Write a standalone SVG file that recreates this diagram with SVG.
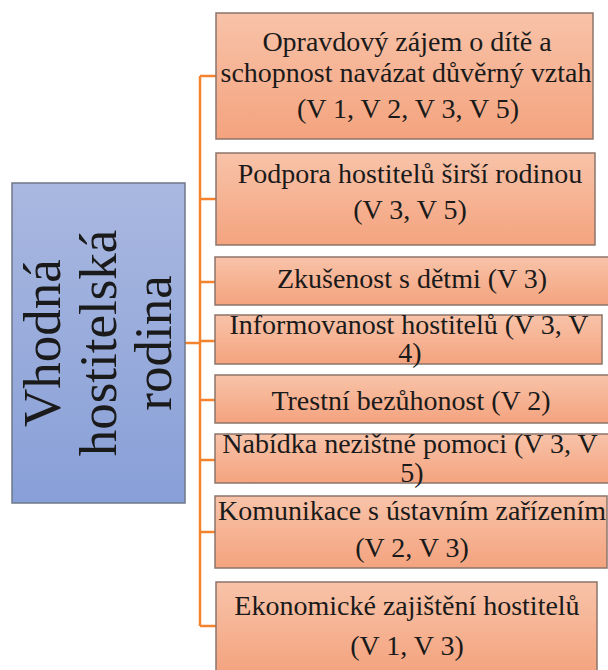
<svg xmlns="http://www.w3.org/2000/svg" width="608" height="670" viewBox="0 0 608 670">
<defs>
<linearGradient id="og" x1="0" y1="0" x2="0" y2="1">
<stop offset="0" stop-color="#f8c3a9"/>
<stop offset="1" stop-color="#f4a37e"/>
</linearGradient>
<linearGradient id="bg" x1="0" y1="0" x2="0" y2="1">
<stop offset="0" stop-color="#a9b8e0"/>
<stop offset="1" stop-color="#889fd7"/>
</linearGradient>
<style>
.ob{fill:url(#og);stroke:#8d7469;stroke-width:1.5}
.bb{fill:url(#bg);stroke:#6f7889;stroke-width:1.5}
.t{font-family:"Liberation Serif","Times New Roman",serif;font-size:28px;fill:#1a1a1a;text-anchor:middle}
.big{font-family:"Liberation Serif","Times New Roman",serif;font-size:53px;fill:#1a1a1a;text-anchor:middle}
.c{fill:none;stroke:#f4832f;stroke-width:2.5}
</style>
</defs>
<rect width="608" height="670" fill="#ffffff"/>
<g id="connectors">
<path class="c" d="M200 76 V626"/>
<path class="c" d="M185 343 H200"/>
<path class="c" d="M200 76 H216 M200 199 H216 M200 282 H215 M200 341 H215 M200 400 H215 M200 460 H215 M200 532 H215 M200 626 H216"/>
</g>
<g id="root">
<rect class="bb" x="12" y="183" width="173" height="320"/>
<text class="big" transform="translate(0,343) rotate(-90)"><tspan x="0" y="60">Vhodná</tspan><tspan x="0" y="116">hostitelská</tspan><tspan x="0" y="171">rodina</tspan></text>
</g>
<g id="n1">
<rect class="ob" x="216" y="13" width="377" height="126"/>
<text class="t"><tspan x="407" y="51">Opravdový zájem o dítě a</tspan><tspan x="406" y="82">schopnost navázat důvěrný vztah</tspan><tspan x="408" y="118">(V 1, V 2, V 3, V 5)</tspan></text>
</g>
<g id="n2">
<rect class="ob" x="216" y="153" width="379" height="92"/>
<text class="t"><tspan x="410" y="183">Podpora hostitelů širší rodinou</tspan><tspan x="410" y="219">(V 3, V 5)</tspan></text>
</g>
<g id="n3">
<rect class="ob" x="215" y="257" width="396" height="48"/>
<text class="t" x="412" y="288">Zkušenost s dětmi (V 3)</text>
</g>
<g id="n4">
<rect class="ob" x="215" y="315" width="387" height="49"/>
<text class="t"><tspan x="409" y="334">Informovanost  hostitelů (V 3, V</tspan><tspan x="410" y="362">4)</tspan></text>
</g>
<g id="n5">
<rect class="ob" x="215" y="375" width="396" height="48"/>
<text class="t" x="411" y="410">Trestní bezůhonost  (V 2)</text>
</g>
<g id="n6">
<rect class="ob" x="215" y="434" width="396" height="49"/>
<text class="t"><tspan x="410" y="453">Nabídka nezištné pomoci (V 3, V</tspan><tspan x="412" y="482">5)</tspan></text>
</g>
<g id="n7">
<rect class="ob" x="215" y="496" width="392" height="72"/>
<text class="t"><tspan x="412" y="520">Komunikace s ústavním zařízením</tspan><tspan x="412" y="557">(V 2, V 3)</tspan></text>
</g>
<g id="n8">
<rect class="ob" x="216" y="582" width="381" height="92"/>
<text class="t"><tspan x="407" y="615">Ekonomické zajištění hostitelů</tspan><tspan x="407" y="655">(V 1, V 3)</tspan></text>
</g>
</svg>
